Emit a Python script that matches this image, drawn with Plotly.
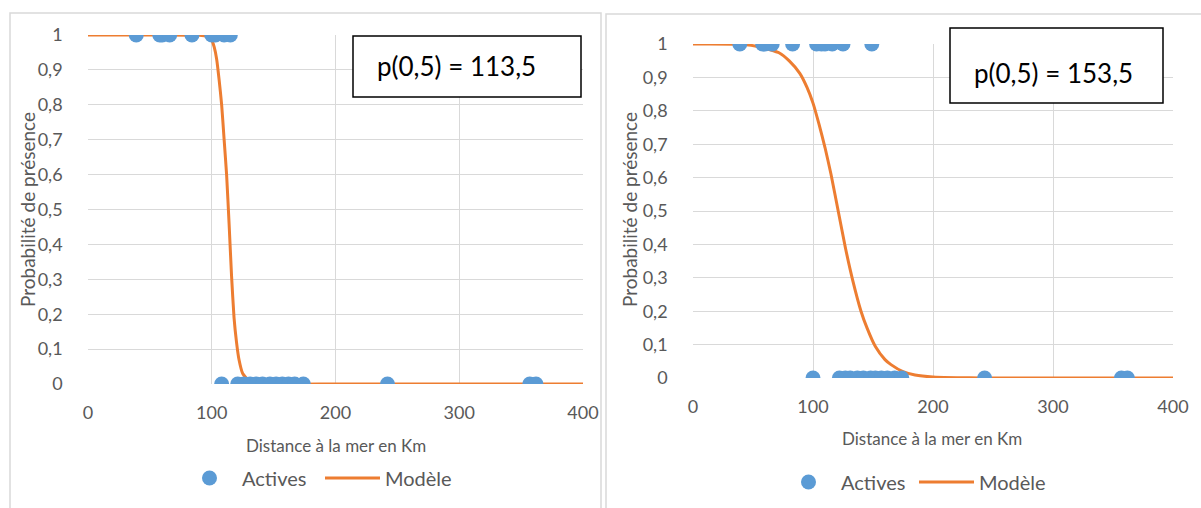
import plotly.graph_objects as go

W, H = 1201, 508

# ---------------- data ----------------
# Left chart
left_pres_x = [39, 58, 60, 66, 84, 100, 103, 110, 115]
left_abs_x = [108, 121, 126, 131, 136, 141, 147, 152, 157, 162, 167, 174, 242, 357, 362]
left_model_x = [0, 60, 90, 95, 100, 102, 104, 106, 108, 110, 112, 114, 116, 118, 120, 122, 125, 130, 140, 200, 300, 400]
left_model_p = [1, 1, 0.999, 0.997, 0.985, 0.965, 0.93, 0.87, 0.8, 0.7, 0.6, 0.46, 0.31, 0.19, 0.12, 0.07, 0.03, 0.01, 0.001, 0, 0, 0]
left_label = "p(0,5) = 113,5"

# Right chart
right_pres_x = [39, 58, 60, 66, 83, 103, 107, 110, 116, 125, 149]
right_abs_x = [100, 122, 127, 131, 137, 142, 148, 152, 157, 162, 168, 174, 243, 357, 362]
right_model_x = [0, 40, 56, 72, 80, 89, 95, 100, 105, 110, 115, 121, 127, 133, 140, 145, 152, 160, 165, 175, 185, 200, 220, 240, 300, 400]
right_model_p = [1, 0.999, 0.991, 0.973, 0.95, 0.912, 0.87, 0.823, 0.76, 0.69, 0.61, 0.5, 0.39, 0.294, 0.2, 0.15, 0.094, 0.055, 0.04, 0.019, 0.009, 0.003, 0.001, 0, 0, 0]
right_label = "p(0,5) = 153,5"

x_ticks = [0, 100, 200, 300, 400]
y_ticks = [0, 0.1, 0.2, 0.3, 0.4, 0.5, 0.6, 0.7, 0.8, 0.9, 1]

series_names = ["Actives", "Modèle"]
x_title = "Distance à la mer en Km"
y_title = "Probabilité de présence"

# ---------------- styling ----------------
BLUE = "#5B9BD5"
ORANGE = "#ED7D31"
GRID = "#D9D9D9"
AXIS = "#BFBFBF"
TXT = "#595959"
FONT = "Lato"


def px(x):
    return x / W


def py(y):
    return 1 - y / H


fig = go.Figure()

# Left traces
fig.add_trace(go.Scatter(x=left_model_x, y=left_model_p, mode="lines", name=series_names[1],
                         line=dict(color=ORANGE, width=3, shape="spline", smoothing=0.5),
                         xaxis="x", yaxis="y", legend="legend", cliponaxis=False, zorder=1))
fig.add_trace(go.Scatter(x=left_pres_x + left_abs_x,
                         y=[1] * len(left_pres_x) + [0] * len(left_abs_x),
                         mode="markers", name=series_names[0],
                         marker=dict(color=BLUE, size=15),
                         xaxis="x", yaxis="y", legend="legend", cliponaxis=False, zorder=2))
# Right traces
fig.add_trace(go.Scatter(x=right_model_x, y=right_model_p, mode="lines", name=series_names[1],
                         line=dict(color=ORANGE, width=3, shape="spline", smoothing=0.5),
                         xaxis="x2", yaxis="y2", legend="legend2", cliponaxis=False, zorder=1))
fig.add_trace(go.Scatter(x=right_pres_x + right_abs_x,
                         y=[1] * len(right_pres_x) + [0] * len(right_abs_x),
                         mode="markers", name=series_names[0],
                         marker=dict(color=BLUE, size=15),
                         xaxis="x2", yaxis="y2", legend="legend2", cliponaxis=False, zorder=2))

xax = dict(range=[0, 400], tickvals=x_ticks, showgrid=True, gridcolor=GRID, gridwidth=1,
           zeroline=False, showline=True, linecolor=AXIS, linewidth=1.5, automargin=False,
           ticks="", ticklabelstandoff=12, tickfont=dict(family=FONT, size=18, color=TXT),
           fixedrange=True)
yax = dict(range=[0, 1], tickvals=y_ticks, showgrid=True, gridcolor=GRID, gridwidth=1,
           zeroline=False, showline=True, linecolor=AXIS, linewidth=1.5, automargin=False,
           ticks="", ticklabelstandoff=20, tickfont=dict(family=FONT, size=18, color=TXT),
           fixedrange=True)

fig.update_layout(
    width=W, height=H,
    margin=dict(l=0, r=0, t=0, b=0, pad=0, autoexpand=False),
    paper_bgcolor="white", plot_bgcolor="white",
    separators=", ",
    font=dict(family=FONT, color=TXT),
    xaxis=dict(xax, domain=[px(88), px(583)], anchor="y"),
    yaxis=dict(yax, domain=[py(384), py(35)], anchor="x"),
    xaxis2=dict(xax, domain=[px(693), px(1173)], anchor="y2"),
    yaxis2=dict(yax, domain=[py(378), py(44)], anchor="x2"),
    legend=dict(orientation="h", x=px(320), y=py(478), xanchor="center", yanchor="middle",
                font=dict(family=FONT, size=20, color=TXT), traceorder="reversed",
                itemwidth=55, entrywidth=73, bgcolor="rgba(0,0,0,0)"),
    legend2=dict(orientation="h", x=px(914), y=py(482), xanchor="center", yanchor="middle",
                 font=dict(family=FONT, size=20, color=TXT), traceorder="reversed",
                 itemwidth=55, entrywidth=68, bgcolor="rgba(0,0,0,0)"),
    showlegend=True,
)

shapes = [
    # chart frames
    dict(type="rect", xref="paper", yref="paper", x0=px(10), x1=px(601), y0=py(520), y1=py(13),
         line=dict(color=GRID, width=1.5), layer="below"),
    dict(type="rect", xref="paper", yref="paper", x0=px(606), x1=px(1205), y0=py(520), y1=py(14),
         line=dict(color=GRID, width=1.5), layer="below"),
    # text boxes
    dict(type="rect", xref="paper", yref="paper", x0=px(353), x1=px(581), y0=py(97), y1=py(36),
         line=dict(color="black", width=1.5), fillcolor="white"),
    dict(type="rect", xref="paper", yref="paper", x0=px(950), x1=px(1163), y0=py(103), y1=py(28),
         line=dict(color="black", width=1.5), fillcolor="white"),
]
fig.update_layout(shapes=shapes)

annotations = [
    dict(text=left_label, x=px(375), y=py(66), xref="paper", yref="paper", xanchor="left",
         yanchor="middle", showarrow=False, font=dict(family=FONT, size=26, color="black")),
    dict(text=right_label, x=px(972), y=py(73), xref="paper", yref="paper", xanchor="left",
         yanchor="middle", showarrow=False, font=dict(family=FONT, size=26, color="black")),
    dict(text=y_title, x=px(28), y=py(210), xref="paper", yref="paper", textangle=-90,
         xanchor="center", yanchor="middle", showarrow=False, font=dict(family=FONT, size=19, color=TXT)),
    dict(text=y_title, x=px(630), y=py(210), xref="paper", yref="paper", textangle=-90,
         xanchor="center", yanchor="middle", showarrow=False, font=dict(family=FONT, size=19, color=TXT)),
    dict(text=x_title, x=px(336), y=py(445), xref="paper", yref="paper",
         xanchor="center", yanchor="middle", showarrow=False, font=dict(family=FONT, size=17, color=TXT)),
    dict(text=x_title, x=px(932), y=py(438), xref="paper", yref="paper",
         xanchor="center", yanchor="middle", showarrow=False, font=dict(family=FONT, size=17, color=TXT)),
]
fig.update_layout(annotations=annotations)

fig.write_html("out.html", config={"displayModeBar": False},
               post_script="document.body.style.margin='0';")
